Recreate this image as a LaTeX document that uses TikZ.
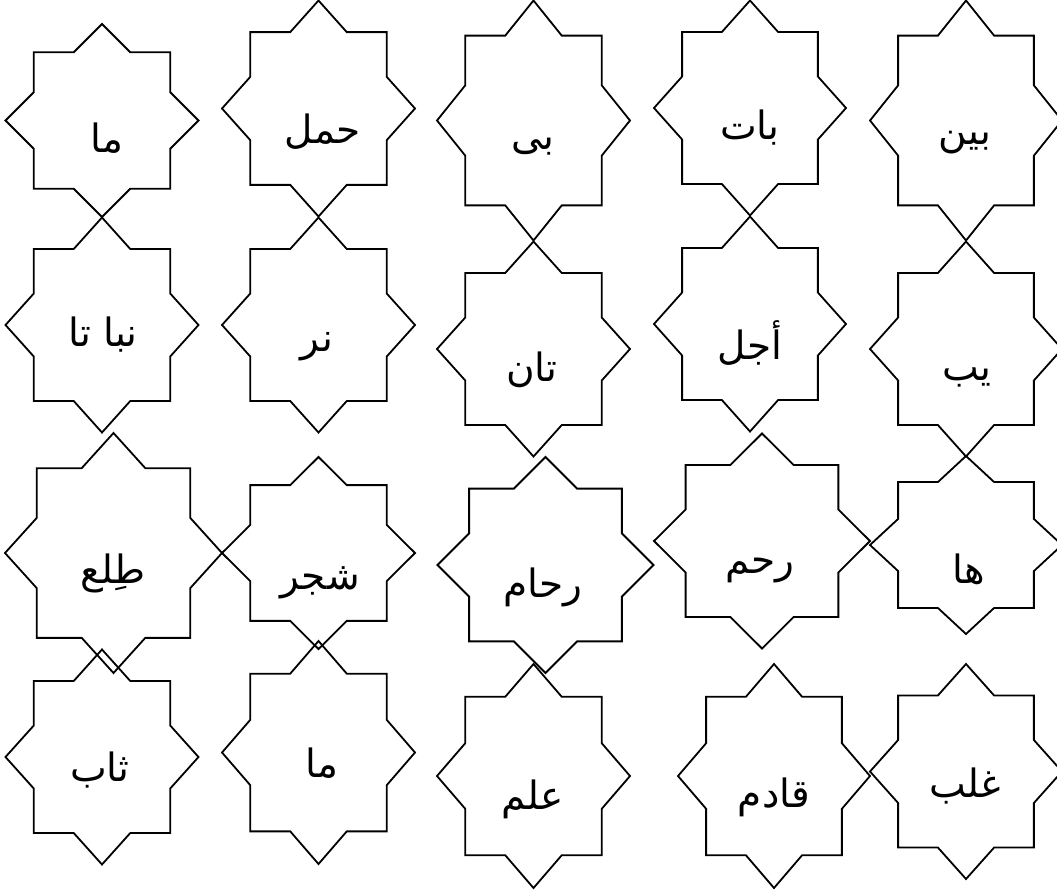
\documentclass[tikz,border=0pt]{standalone}
\usepackage{fontspec}
\newfontfamily\arabicfont[Script=Arabic]{DejaVu Sans}
\TeXXeTstate=1

% outline of an eight-pointed star: centre, half width, half height
\newcommand{\octostar}[3]{%
  \draw[starline, shift={#1}, xscale=#2, yscale=#3]
    (0,1) -- (0.2929,0.7071) -- (0.7071,0.7071) -- (0.7071,0.2929)
    -- (1,0) -- (0.7071,-0.2929) -- (0.7071,-0.7071) -- (0.2929,-0.7071)
    -- (0,-1) -- (-0.2929,-0.7071) -- (-0.7071,-0.7071) -- (-0.7071,-0.2929)
    -- (-1,0) -- (-0.7071,0.2929) -- (-0.7071,0.7071) -- (-0.2929,0.7071)
    -- cycle;}

\tikzset{
  starline/.style={draw=black, line width=1.8pt},
  word/.style={font=\arabicfont\fontsize{39}{44}\selectfont, inner sep=0pt}
}

\begin{document}
\begin{tikzpicture}[x=1pt, y=-1pt]
  \useasboundingbox (0,0) rectangle (1057,894);

  % first row
  \octostar{(102,120.5)}{96.5}{96.5}
  \node[word] (ma) at (107,138) {\beginR ما\endR};
  \octostar{(318.5,108.5)}{96.5}{108}
  \node[word] (haml) at (323,132) {\beginR حمل\endR};
  \octostar{(533.5,120.5)}{96.5}{120}
  \node[word] (bi) at (533,147) {\beginR بى\endR};
  \octostar{(750,108)}{96}{107.5}
  \node[word] (bat) at (750,128) {\beginR بات\endR};
  \octostar{(966,120.5)}{96}{120}
  \node[word] (bayn) at (965,143) {\beginR بين\endR};

  % second row
  \octostar{(102,325)}{96.5}{107.5}
  \node[word] (nabata) at (103,335) {\beginR نبا تا\endR};
  \octostar{(318.5,325)}{96.5}{107.5}
  \node[word] (nar) at (317,347) {\beginR نر\endR};
  \octostar{(533.5,349)}{96.5}{107.5}
  \node[word] (tan) at (532,370) {\beginR تان\endR};
  \octostar{(750,324)}{96}{107.5}
  \node[word] (ajal) at (750,343) {\beginR أجل\endR};
  \octostar{(966,349)}{96}{107.5}
  \node[word] (yab) at (967,377) {\beginR يب\endR};

  % third row
  \octostar{(113.5,553)}{108.5}{120}
  \node[word] (tala) at (113,573) {\beginR طِلع\endR};
  \octostar{(318.5,553)}{96.5}{96}
  \node[word] (shajar) at (320,583) {\beginR شجر\endR};
  \octostar{(545.5,565)}{108}{108}
  \node[word] (riham) at (543,587) {\beginR رحام\endR};
  \octostar{(762,541)}{108}{107.5}
  \node[word] (rahim) at (760,570) {\beginR رحم\endR};
  \octostar{(966,545)}{96}{89}
  \node[word] (ha) at (969,569) {\beginR ها\endR};

  % fourth row
  \octostar{(102,757)}{96.5}{107.5}
  \node[word] (thab) at (100,770) {\beginR ثاب\endR};
  \octostar{(318.5,752.5)}{96.5}{111.5}
  \node[word] (maa) at (322,763) {\beginR ما\endR};
  \octostar{(533.5,776)}{96.5}{112}
  \node[word] (ilm) at (533,799) {\beginR علم\endR};
  \octostar{(774,776)}{96}{112}
  \node[word] (qadim) at (774,797) {\beginR قادم\endR};
  \octostar{(966,771.5)}{96}{107.5}
  \node[word] (ghalab) at (965,786) {\beginR غلب\endR};
\end{tikzpicture}
\end{document}
